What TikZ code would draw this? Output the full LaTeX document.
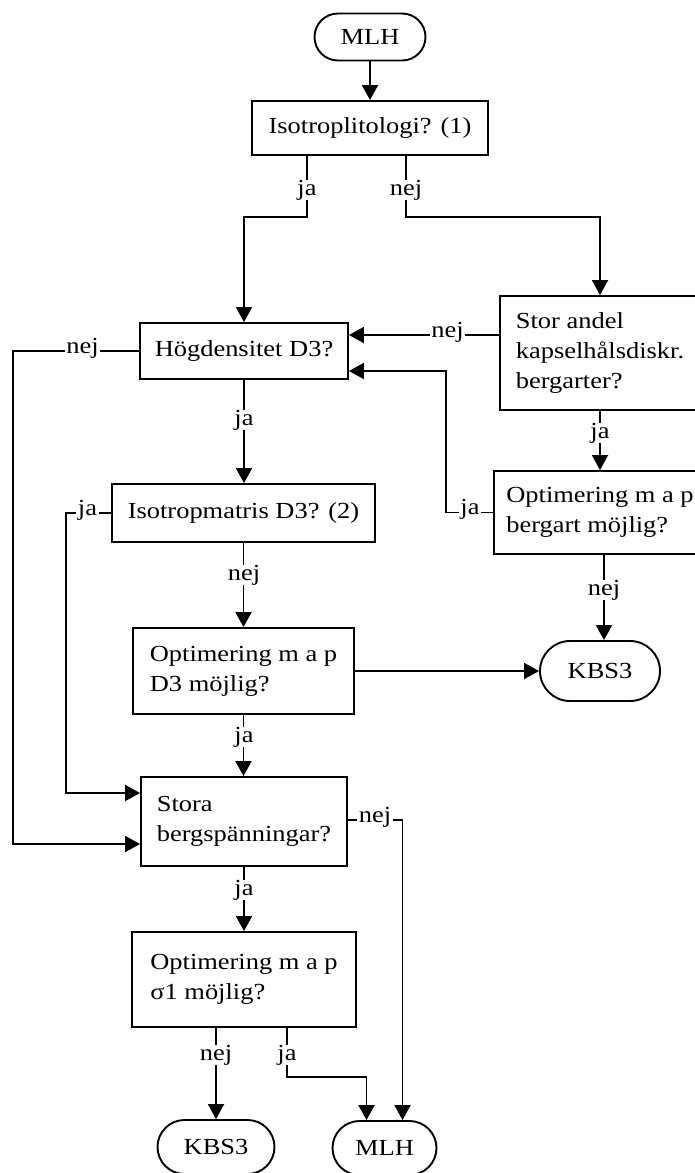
\documentclass[tikz,border=0pt]{standalone}
\usepackage{fontspec}
\setmainfont{Liberation Serif}[FakeStretch=1.15]
\usetikzlibrary{arrows.meta,calc}
\begin{document}
\begin{tikzpicture}[x=1pt,y=-1pt,
  font=\fontsize{23}{30}\selectfont,
  box/.style={draw, line width=1.9pt, align=left, inner sep=0pt},
  pill/.style={draw, line width=1.9pt, inner sep=0pt},
  conn/.style={line width=1.9pt},
  arr/.style={conn, -{Triangle[length=15pt,width=16pt]}},
  vlbl/.style={fill=white, inner sep=0pt, anchor=base},
  hlbl/.style={fill=white, inner xsep=1.5pt, inner ysep=0pt, anchor=mid}
]
\useasboundingbox (0,0) rectangle (695,1173);
\clip (0,0) rectangle (695,1173);

% nodes
\node[pill, minimum width=111pt, minimum height=47pt, rounded corners=23.5pt] (mlhA) at (370,37) {MLH};
\node[box, minimum width=236pt, minimum height=54pt] (iso) at (370,128) {Isotroplitologi? (1)};
\node[box, minimum width=208pt, minimum height=56pt] (hog) at (244,351) {Högdensitet D3?};
\node[box, minimum width=200pt, minimum height=114pt] (stor) at (600,353) {Stor andel\\kapselhålsdiskr.\\bergarter?};
\node[box, minimum width=212pt, minimum height=83pt] (optb) at (600,512.5) {Optimering m a p\\bergart möjlig?};
\node[box, minimum width=263pt, minimum height=58pt] (isom) at (243.5,513) {Isotropmatris D3? (2)};
\node[box, minimum width=221pt, minimum height=86pt] (optd) at (243.5,671) {Optimering m a p\\D3 möjlig?};
\node[pill, minimum width=120pt, minimum height=60pt, rounded corners=30pt] (kbsA) at (600,671) {KBS3};
\node[box, minimum width=206pt, minimum height=89pt] (stora) at (244,821.5) {Stora\\bergspänningar?};
\node[box, minimum width=224pt, minimum height=95pt] (sig) at (244,979.5) {Optimering m a p\\σ1 möjlig?};
\node[pill, minimum width=117pt, minimum height=54pt, rounded corners=27pt] (kbsB) at (216,1147) {KBS3};
\node[pill, minimum width=104pt, minimum height=54pt, rounded corners=27pt] (mlhB) at (384.5,1148) {MLH};

% connectors
\draw[arr] (mlhA.south) -- (iso.north);
\draw[arr] ($(iso.south)+(-63,0)$) -- ++(0,61) -| (hog.north);
\draw[arr] ($(iso.south)+(36,0)$) -- ++(0,61) -| (stor.north);
\draw[arr] ($(stor.west)+(0,-18)$) coordinate (sa) -- (sa -| hog.east);
\draw[arr] (hog.west) -- ++(-126,0) |- ($(stora.west)+(0,22.5)$);
\draw[arr] (hog.south) -- (hog.south |- isom.north);
\draw[arr] (stor.south) -- (optb.north);
\draw[arr] (optb.west) -- ++(-47,0) |- ($(hog.east)+(0,20)$);
\draw[arr] ($(optb.south)+(4,0)$) coordinate (ob) -- (ob |- kbsA.north);
\draw[arr] (isom.west) -- ++(-45,0) |- ($(stora.west)+(0,-28.5)$);
\draw[arr] (isom.south) -- (isom.south |- optd.north);
\draw[arr] (optd.east) -- (optd.east -| kbsA.west);
\draw[arr] (optd.south) -- (optd.south |- stora.north);
\draw[arr] ($(stora.east)+(0,-1.5)$) -| ($(mlhB.north)+(18,0)$);
\draw[arr] (stora.south) -- (sig.north);
\draw[arr] ($(sig.south)+(-28,0)$) -- (kbsB.north);
\draw[arr] ($(sig.south)+(43,0)$) -- ++(0,49) -| ($(mlhB.north)+(-18,0)$);

% labels
\node[vlbl] (l1) at (307,195) {ja};
\node[vlbl] (l2) at (406,195) {nej};
\node[hlbl] (l3) at (82.5,351) {nej};
\node[hlbl] (l4) at (447.5,335) {nej};
\node[vlbl] (l5) at (244,425) {ja};
\node[vlbl] (l6) at (600,438) {ja};
\node[hlbl] (l7) at (470,512.5) {ja};
\node[hlbl] (l8) at (87.5,513) {ja};
\node[vlbl] (l9) at (244,580) {nej};
\node[vlbl] (l10) at (604,595) {nej};
\node[vlbl] (l11) at (244,742) {ja};
\node[hlbl] (l12) at (375,820) {nej};
\node[vlbl] (l13) at (244,895) {ja};
\node[vlbl] (l14) at (216,1060) {nej};
\node[vlbl] (l15) at (287,1060) {ja};
\end{tikzpicture}
\end{document}
